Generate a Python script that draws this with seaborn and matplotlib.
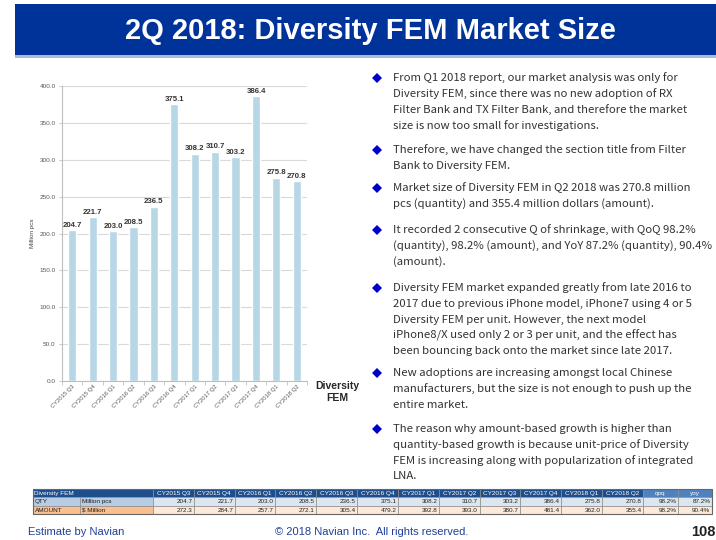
import matplotlib
matplotlib.use('Agg')
import matplotlib.pyplot as plt
import seaborn as sns
from matplotlib.patches import Rectangle, Polygon
from matplotlib.ticker import FixedLocator

# chart data
quarters = ['CY2015 Q3', 'CY2015 Q4', 'CY2016 Q1', 'CY2016 Q2', 'CY2016 Q3', 'CY2016 Q4',
            'CY2017 Q1', 'CY2017 Q2', 'CY2017 Q3', 'CY2017 Q4', 'CY2018 Q1', 'CY2018 Q2']
qty = [204.7, 221.7, 203.0, 208.5, 236.5, 375.1, 308.2, 310.7, 303.2, 386.4, 275.8, 270.8]
amount = [272.3, 284.7, 257.7, 272.1, 305.4, 479.2, 392.8, 393.0, 380.7, 481.4, 362.0, 355.4]
growth_labels = ['qoq', 'yoy']
qty_growth = ['98.2%', '87.2%']
amount_growth = ['98.2%', '90.4%']
y_ticks = [0, 50, 100, 150, 200, 250, 300, 350, 400]

title = '2Q 2018: Diversity FEM Market Size'
bullets = [
    ['From Q1 2018 report, our market analysis was only for',
     'Diversity FEM, since there was no new adoption of RX',
     'Filter Bank and TX Filter Bank, and therefore the market',
     'size is now too small for investigations.'],
    ['Therefore, we have changed the section title from Filter',
     'Bank to Diversity FEM.'],
    ['Market size of Diversity FEM in Q2 2018 was 270.8 million',
     'pcs (quantity) and 355.4 million dollars (amount).'],
    ['It recorded 2 consecutive Q of shrinkage, with QoQ 98.2%',
     '(quantity), 98.2% (amount), and YoY 87.2% (quantity), 90.4%',
     '(amount).'],
    ['Diversity FEM market expanded greatly from late 2016 to',
     '2017 due to previous iPhone model, iPhone7 using 4 or 5',
     'Diversity FEM per unit. However, the next model',
     'iPhone8/X used only 2 or 3 per unit, and the effect has',
     'been bouncing back onto the market since late 2017.'],
    ['New adoptions are increasing amongst local Chinese',
     'manufacturers, but the size is not enough to push up the',
     'entire market.'],
    ['The reason why amount-based growth is higher than',
     'quantity-based growth is because unit-price of Diversity',
     'FEM is increasing along with popularization of integrated',
     'LNA.'],
]
bullet_tops = [78, 150, 188, 230, 288, 373, 429]

sns.set_style('white')
plt.rcParams['font.family'] = ['Liberation Sans', 'DejaVu Sans']

W, H = 716, 540
fig = plt.figure(figsize=(W / 100, H / 100), dpi=100)

# full-page canvas in pixel coordinates for the slide furniture
cv = fig.add_axes([0, 0, 1, 1])
cv.set_xlim(0, W)
cv.set_ylim(H, 0)
cv.axis('off')
cv.patch.set_alpha(0)

cv.add_patch(Rectangle((15, 4), W - 15, 51, color='#003399', lw=0))
cv.add_patch(Rectangle((15, 55), W - 15, 2.5, color='#a9bbdc', lw=0))
cv.text(370, 31, title, color='white', fontsize=21, fontweight='bold',
        ha='center', va='center')

# bullets
for lines, top in zip(bullets, bullet_tops):
    cv.add_patch(Polygon([(377, top - 5), (382, top), (377, top + 5), (372, top)],
                         closed=True, color='#0000cc', lw=0))
    for i, line in enumerate(lines):
        cv.text(393, top + i * 15.8, line, fontsize=8.2, color='#333333',
                va='center', ha='left', family=['Noto Sans CJK JP', 'DejaVu Sans'])

cv.text(337, 392, 'Diversity\nFEM', fontsize=7.5, fontweight='bold', ha='center',
        va='center', linespacing=1.2)

# data table
xs = [33, 80, 153] + [153 + 40.83 * (i + 1) for i in range(12)] + [678, 712]
ys = [489, 497, 505.5, 514]
head_blue, head_light = '#1f4e8c', '#4f81bd'
edge = '#8c8c8c'
tfs = 4.6


def cell(x0, x1, y0, y1, fc, txt='', ha='right', color='#222222'):
    cv.add_patch(Rectangle((x0, y0), x1 - x0, y1 - y0, fc=fc, ec=edge, lw=0.5))
    if txt:
        tx = x1 - 1.5 if ha == 'right' else (x0 + 1.5 if ha == 'left' else (x0 + x1) / 2)
        cv.text(tx, (y0 + y1) / 2 + 0.3, txt, fontsize=tfs, ha=ha, va='center', color=color)


cell(xs[0], xs[2], ys[0], ys[1], head_blue, 'Diversity FEM', ha='left', color='white')
for i, q in enumerate(quarters):
    cell(xs[i + 2], xs[i + 3], ys[0], ys[1], head_blue, q, ha='center', color='white')
for j, g in enumerate(growth_labels):
    cell(xs[14 + j], xs[15 + j], ys[0], ys[1], head_light, g, ha='center', color='white')

cell(xs[0], xs[1], ys[1], ys[2], '#b8cce4', 'QTY', ha='left')
cell(xs[1], xs[2], ys[1], ys[2], '#b8cce4', 'Million pcs', ha='left')
for i, v in enumerate(qty):
    cell(xs[i + 2], xs[i + 3], ys[1], ys[2], '#dce6f1', f'{v:.1f}')
for j, g in enumerate(qty_growth):
    cell(xs[14 + j], xs[15 + j], ys[1], ys[2], '#dce6f1', g)

cell(xs[0], xs[1], ys[2], ys[3], '#fabf8f', 'AMOUNT', ha='left')
cell(xs[1], xs[2], ys[2], ys[3], '#fabf8f', '$ Million', ha='left')
for i, v in enumerate(amount):
    cell(xs[i + 2], xs[i + 3], ys[2], ys[3], '#fde9d9', f'{v:.1f}')
for j, g in enumerate(amount_growth):
    cell(xs[14 + j], xs[15 + j], ys[2], ys[3], '#fde9d9', g)
cv.add_patch(Rectangle((xs[0], ys[0]), xs[-1] - xs[0], ys[-1] - ys[0], fc='none',
                       ec='#666666', lw=0.8))

# footer
cv.text(28, 532, 'Estimate by Navian', fontsize=8, color='#1f3f99', va='center')
cv.text(275, 532, '\u00a9 2018 Navian Inc.  All rights reserved.', fontsize=8,
        color='#1f3f99', va='center', ha='left')
cv.text(716, 532, '108', fontsize=10.5, fontweight='bold', color='#222222',
        va='center', ha='right')

# bar chart
ax = fig.add_axes([62 / W, 1 - 381 / H, 245 / W, (381 - 86) / H])
sns.barplot(x=quarters, y=qty, color='#b8d7e6', width=0.4, saturation=1, ax=ax)
ax.bar_label(ax.containers[0], fmt='%.1f', fontsize=5.6, fontweight='bold',
             color='#333333', padding=1)
ax.set_ylim(0, 400)
ax.set_xlim(-0.5, len(quarters) - 0.5)
ax.set_yticks(y_ticks)
ax.set_yticklabels([f'{t:.1f}' for t in y_ticks])
ax.set_ylabel('Million pcs', fontsize=4.6, color='#444444', labelpad=3)
ax.set_xlabel('')
ax.tick_params(axis='y', labelsize=4.6, labelcolor='#595959', length=2.5,
               color='#bfbfbf', width=0.6, left=True, pad=2)
ax.tick_params(axis='x', labelsize=4.2, labelcolor='#595959', length=0, pad=2)
plt.setp(ax.get_xticklabels(), rotation=45, ha='right', rotation_mode='anchor')
ax.xaxis.set_minor_locator(FixedLocator([i - 0.5 for i in range(len(quarters) + 1)]))
ax.tick_params(axis='x', which='minor', length=3, color='#bfbfbf', width=0.6, bottom=True)
ax.grid(axis='y', color='#d9d9d9', lw=0.8)
ax.set_axisbelow(True)
for s in ['top', 'right']:
    ax.spines[s].set_visible(False)
for s in ['left', 'bottom']:
    ax.spines[s].set_color('#bfbfbf')
    ax.spines[s].set_linewidth(0.8)
ax.patch.set_alpha(0)

fig.savefig('out.png', dpi=100)
plt.close(fig)
